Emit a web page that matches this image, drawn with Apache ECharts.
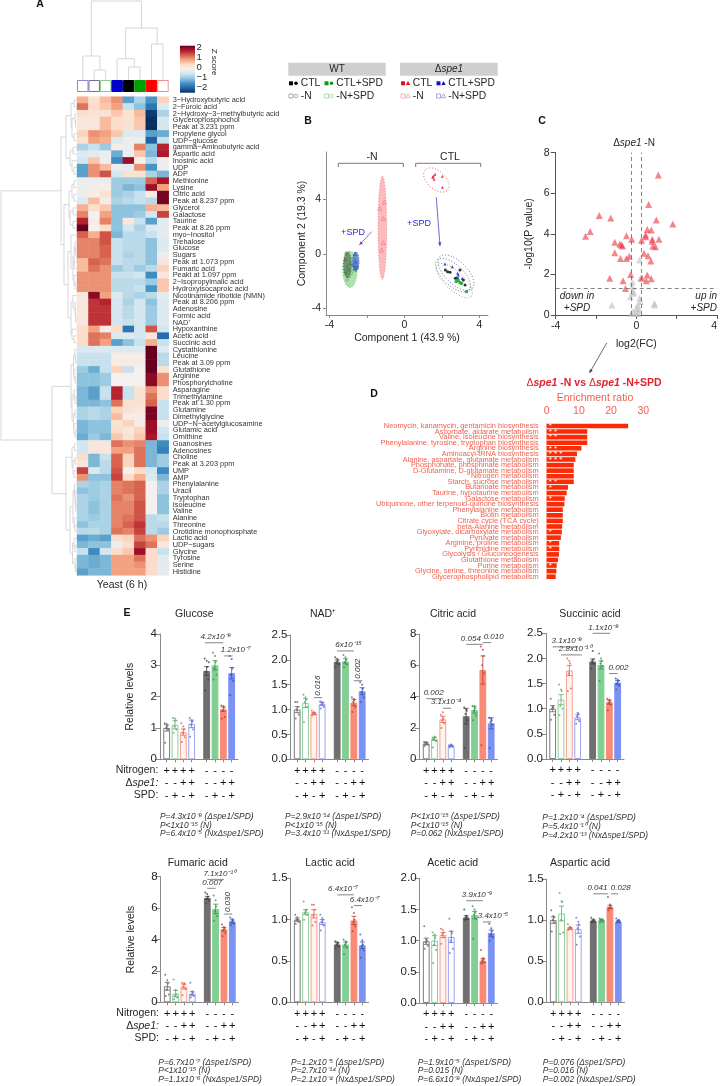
<!DOCTYPE html>
<html><head><meta charset="utf-8">
<style>html,body{margin:0;padding:0;background:#fff}#c{width:720px;height:1086px}</style>
<script src="https://cdn.jsdelivr.net/npm/echarts@6/dist/echarts.min.js"></script>
</head><body><div id="c"></div>
<script>
const FONT='"Liberation Sans",Arial,sans-serif';
/* ---------- Panel A ---------- */
const rowNames=['3−Hydroxybutyric acid','2−Furoic acid','2−Hydroxy−3−methylbutyric acid','Glycerophosphochol','Peak at 3.231 ppm','Propylene glycol','UDP−glucose','gamma−Aminobutyric acid','Aspartic acid','Inosinic acid','UDP','ADP','Methionine','Lysine','Citric acid','Peak at 8.237 ppm','Glycerol','Galactose','Taurine','Peak at 8.26 ppm','myo−Inositol','Trehalose','Glucose','Sugars','Peak at 1.073 ppm','Fumaric acid','Peakt at 1.097 ppm','2−Isopropylmalic acid','Hydroxyisocaproic acid','Nicotinamide ribotide (NMN)','Peak at 8.206 ppm','Adenosine','Formic acid','NAD⁺','Hypoxanthine','Acetic acid','Succinic acid','Cystathionine','Leucine','Peak at 3.09 ppm','Glutathione','Arginine','Phosphorylcholine','Asparagine','Trimethylamine','Peak at 1.30 ppm','Glutamine','Dimethylglycine','UDP−N−acetylglucosamine','Glutamic acid','Ornithine','Guanosines','Adenosines','Choline','Peak at 3.203 ppm','UMP','AMP','Phenylalanine','Uracil','Tryptophan','Isoleucine','Valine','Alanine','Threonine','Orotidine monophosphate','Lactic acid','UDP−sugars','Glycine','Tyrosine','Serine','Histidine'];
const heatRows=[
[.8,.3,.7,1,-1.2,-.7,-1.3,.5],[1.2,.4,.6,.9,-.5,-.9,-1.6,-.3],[.4,.3,.3,.6,.3,.7,-2.1,-.7],[.2,.2,.7,.4,.3,.6,-2.2,-.4],[.2,.2,.7,.4,.3,.6,-2.2,-.4],[.5,1,.9,.6,-.3,-.3,-1.2,-1.1],[.3,.9,.8,-.3,-.1,-.1,-1.8,-.5],[-.7,-.5,-.8,.1,-.1,1.1,-.9,1.7],[-.3,-.2,-.1,-1.1,-.1,.6,-1,1.8],[-.4,.6,-.1,-1.4,1.9,0,-.6,-.1],[-1.2,1,.7,-.1,-.2,1,-1.3,-.1],[-1.2,1,1.4,-.4,.3,.3,-.7,-1],
[-.1,-.1,-.1,-.8,-.8,-.8,1.3,1.8],[-.1,.1,.1,-.8,-1,-.9,1.9,.9],[-.1,.1,.3,-.8,-.7,-.5,.1,2.1],[-.3,.7,.1,-.7,-.6,-.5,-.6,2.1],[.8,.4,.6,-.9,-.9,-.9,.8,.7],[1.1,0,.9,-.9,-.9,-.8,-.4,1.5],[1.7,.1,1.1,-.9,.2,-.5,-1.2,-.2],[2.5,0,.4,-.9,-.4,-.7,-.3,-.2],[1.3,.8,1.4,-1,-.6,-.6,-.5,-.2],[1.1,1.1,1.4,-.5,-.6,-.6,-.9,-.3],[1.1,1.1,1.3,-.5,-.6,-.6,-.9,-.3],[1.1,1.1,1.3,-.5,-.7,-.6,-.9,-.1],[.7,1.3,1.2,-.5,-.6,-.6,-.9,.2],[.7,1.2,1,-.8,-.6,-.8,-.6,.5],[1,1,1,-.5,-.5,-.4,-1.4,.2],[1,1,1,-.6,-.6,-.6,-.8,.6],[1,1,1,-.6,-.6,-.5,-1.3,.6],[.2,2,.9,-.3,-.6,-.7,-.6,-.2],[.2,1.6,1.7,-.4,-.7,-.4,-.9,-.3],[.2,1.6,1.6,-.4,-.6,-.4,-.8,-.3],[.2,1.6,1.6,-.4,-.6,-.4,-.8,-.3],[.2,1.6,1.6,-.4,-.5,-.4,-.8,-.3],[.4,.9,.1,.4,-1.6,-.4,1.4,-.4],[.4,1.2,1.1,-.3,-.3,-.4,.2,-1.7],[.4,1.2,.9,-1.2,-.9,-.5,.8,-.5],
[-.3,-.3,-.3,-.3,-.3,-.3,2.7,-.3],[-.5,-.5,-.5,.1,.1,.1,2.7,-.6],[-.5,-.5,-.5,.1,.1,.1,2.6,-.6],[-.8,-1.1,-.5,.5,-.5,0,2.2,.3],[-.9,-.9,-.8,0,0,0,2,1],[-.9,-.9,-.8,0,0,0,2,1],[-1,-1.2,-.5,1.7,-.5,.3,1,.4],[-1,-1.2,-.5,1.7,-.5,.3,1.2,.4],[-1,-1,-.9,1.2,.3,.3,1.3,-.5],[-.7,-.6,-.7,.5,.3,.2,2.1,-.5],[-.7,-.6,-.7,.7,.1,.1,2.1,-.5],[-1,-.9,-.9,.3,.5,.1,1.9,-.1],[-1,-.9,-.9,.4,.2,.5,1.9,-.4],[-1.1,-.8,-1,.6,.3,.6,1.8,-.5],
[-.4,.2,.2,1.2,1,1.1,-1,-1.4],[-.4,.2,.2,.9,.9,1.2,-1,-1.5],[.4,-1,-.5,1.3,.5,1.2,-1,-.8],[.2,-1,-.6,1.3,.5,1.2,-1,-.8],[1.5,-.3,-.6,1.4,0,.4,-.4,-1.4],[1,-.9,-.9,1.5,.4,.8,-.3,-1],[-.7,-.8,-.7,1.1,1.2,1.3,0,-.7],[-.9,-.8,-.7,1.1,1.2,1.3,0,-.7],[-.7,-.8,-.7,1.2,1,1.3,0,-.9],[-.7,-.9,-.7,1.1,1.1,1.4,0,-.9],[-.7,-.9,-.7,1.1,1.1,1.4,0,-.9],[-.7,-.8,-.7,1.1,1.2,1.4,-.6,-.5],[-.9,-.7,-.7,1.1,1.3,1.6,-.6,-.6],[-.6,-.6,-.7,1.2,1.1,1.5,-.6,-.8],[-1.2,-1.1,-1.2,.4,.5,1.2,1,.5],[-1,-.9,-.9,-.1,.4,1.5,1.2,.2],[-.5,-1.4,-.4,.4,.6,1.9,.4,-.5],[-1,-1.1,-1,.9,.9,1.2,.4,-.2],[-1,-1.1,-1,.9,.9,1,.4,-.2],[-1.2,-1,-1,.9,.9,.9,.4,-.2]];
const colTree=[1,[56,0,[70,1,2]],[28,[58.7,3,[67,4,5]],[44,6,7]]];
const rowTreeA=[66,[71,[74,0,1],[72,[75,2,[75.5,3,4]],[74,5,6]]],[70,[73,7,8],[72,9,[74,10,11]]]];
const rowTreeB=[64,[69,[72,[74,12,13],[74,14,15]],[70,[73,16,17],[73,18,19]]],[68,[71,20,[73,[74,[75,21,[75.5,22,23]],[74,24,25]],[74,26,[75,27,28]]]],[71,[73,29,[75,30,[75.5,31,[75.7,32,33]]]],[72,34,[74,35,36]]]]];
const rowTreeC=[71,[73.5,[75,37,[75.5,38,39]],[74,40,[75,41,42]]],[72,[74,43,[75,44,45]],[73.5,[75,46,47],[74,48,[75,49,50]]]]];
const rowTreeD=[66,[72,[74.5,51,52],[73,[75,53,54],[74,55,56]]],[70,[73,[74.5,57,[75,58,[75.5,59,[75.7,60,61]]]],[74,62,[75,63,64]]],[72.5,[74,65,[75,66,67]],[75,68,[75.5,69,70]]]]];
const rowTree=[1,[61,rowTreeA,rowTreeB],[52,rowTreeC,rowTreeD]];
const annotBorder=['#8f86d6','#6f7396','#8ccb8c','#0000c8','#000000','#00a000','#ff0000','#f09090'];
const annotFill=['#fff','#fff','#fff','#0000c8','#000000','#00a000','#ff0000','#fff'];
const rdbu=['#053061','#2166ac','#4393c3','#92c5de','#d1e5f0','#f4f0ee','#fddbc7','#f4a582','#d6604d','#b2182b','#67001f'];
/* ---------- Panel B ---------- */
const pcaWtCtl=[[2.19,-1.18],[2.31,-1.3],[2.44,-1.35],[2.72,-1.79],[2.97,-1.18],[3.15,-1.91],[3.24,-2.28]];
const pcaWtCtlSpd=[[2.76,-2.03],[2.88,-1.96],[2.97,-2.11],[3.06,-2.16],[3.32,-2.77],[2.84,-1.79]];
const pcaSpeCtl=[[1.55,5.74],[1.51,5.64],[1.58,5.49],[2.03,5.71],[2.03,4.9],[1.64,5.86]];
const pcaSpeCtlSpd=[[2.17,-.74],[2.56,-.93],[2.84,-1.42],[3.09,-1.79],[2.79,-1.72],[2.88,-1.54]];
const pcaSpeN=[[-1.07,3.8],[-1.32,3.36],[-1.12,2.62],[-1.12,.83],[-1.21,.29]];
const pcaWtN=[[-3.11,.05],[-3.15,-.44],[-3.04,-.93],[-2.97,-1.18],[-2.9,-.69],[-3.11,-1.42]];
const pcaWtNSpd=[[-2.81,-1.42],[-2.93,-1.67],[-3.04,-1.91],[-2.72,-1.18],[-2.86,-.32],[-3.16,-1.18]];
const pcaSpeNSpd=[[-2.63,0],[-2.6,-.56],[-2.72,-.81],[-2.51,-.93],[-2.63,-1.05]];
const ellipses=[[-1.17,1.93,.23,0,0,3.8],[-2.9,-1.13,.39,0,0,1.35],[-3.03,-.8,.21,0,0,.97],[-2.59,-.56,.18,0,0,.73],[1.71,5.44,.6,-.74,.32,.5],[2.67,-1.96,.9,-1.16,.33,.5],[2.6,-1.55,.85,-1.1,.38,.55],[2.76,-1.37,.87,-1.16,.4,.6]];
const ellipseFill=['rgba(250,120,125,.5)','rgba(110,200,110,.55)','rgba(70,110,70,.65)','rgba(70,110,200,.75)','rgba(255,255,255,0)','rgba(255,255,255,0)','rgba(255,255,255,0)','rgba(255,255,255,0)'];
const ellipseLine=['#e66','#5b5','#363','#36c','#e22','#3a3','#333','#22c'];
/* ---------- Panel C ---------- */
const volcanoSig=[[1.09,6.9],[.61,5.45],[.99,4.68],[1.81,4.48],[-1.84,4.91],[-1.27,4.78],[-2.29,4.11],[-2.52,3.88],[-.49,3.91],[-.23,3.73],[-1.07,3.58],[-.74,3.45],[-.69,3.4],[-.82,3.5],[-1.07,3.07],[-.79,2.79],[-.49,2.78],[-.35,2.89],[.26,3.69],[.46,3.86],[.54,4.22],[.74,4.19],[.79,3.73],[.79,3.63],[1.12,3.73],[.82,3.4],[.95,3.37],[.38,3.04],[.58,2.92],[.72,2.66],[.46,3.94],[-.28,2],[-1.32,1.81],[-.66,1.69],[-.54,1.31],[.28,1.82],[.54,1.97],[.49,1.69],[.74,1.79]];
const volcanoNs=[[.16,2.71],[.2,1.81],[-.2,1.64],[-.2,1.4],[-.16,1.15],[-.3,.9],[-.13,1.07],[.16,.82],[.2,.66],[.08,.49],[0,.33],[.13,.25],[-.16,.16],[-.03,.08],[-1.22,.49],[.9,.57],[.9,.49],[.08,.08],[-.25,.08]];
/* ---------- Panel D ---------- */
const pathways=['Neomycin, kanamycin, gentamicin biosynthesis','Ascorbate, aldarate metabolism','Valine, isoleucine biosynthesis','Phenylalanine, tyrosine, tryptophan biosynthesis','Arginine biosynthesis','Aminoacyl-tRNA biosynthesis','Alanine, aspartate, glutamate metabolism','Phosphonate, phosphinate metabolism','D-Glutamine, D-glutamate metabolism','Nitrogen metabolism','Starch, sucrose metabolism','Butanoate metabolism','Taurine, hypotaurine metabolism','Galactose metabolism','Ubiquinone, other terpenoid-quinone biosynthesis','Phenylalanine metabolism','Biotin metabolism','Citrate cycle (TCA cycle)','beta-Alanine metabolism','Glyoxylate, dicarboxylate metabolism','Pyruvate metabolism','Arginine, proline metabolism','Pyrimidine metabolism','Glycolysis / Gluconeogenesis','Glutathione metabolism','Purine metabolism','Glycine, serine, threonine metabolism','Glycerophospholipid metabolism'];
const enrichment=[25.3,12.6,12.6,12.6,10.8,9.4,8.9,8.4,8.4,8.4,8.4,6.6,6.2,5.6,5.5,5,5,5,4.8,4.7,4.4,3.9,3.9,3.8,3.5,3.1,3,2.8];
const enrichStars=['*','* *','* *','','* *','* * *','* * *','','','','* *','*','','*','','','','','','*','','*','*','','','*','',''];
/* ---------- Panel E ---------- */
const barPos=[0,1,2,3,4.8,5.8,6.8,7.8];
const signN=['+','+','+','+','-','-','-','-'];
const signS=['-','-','+','+','-','-','+','+'];
const signD=['-','+','-','+','-','+','-','+'];
const barBorder=['#7c7c7c','#8fcf9b','#f3a08e','#9aa4f0','#6f6f6f','#82cf93','#f98a75','#7b92f2'];
const barFill=['#ffffff','#ffffff','#fff4ef','#ffffff','#6f6f6f','#82cf93','#f98a75','#7b92f2'];
const dotColor=['#666','#5aa86c','#e2604a','#6670d0','#444','#3c8f50','#b8412e','#3c50b8'];
const jitter=[-.18,.18,-.08,.08,0,-.24,.24];

const glucoseMean=[1,1.1,.87,1.13,2.82,3,1.6,2.75],glucoseSem=[.1,.13,.1,.12,.14,.15,.07,.18];
const glucoseDots=[[.53,.95,1,1.05,1.13,1.15],[.85,.95,1.05,1.25,1.3,1.32],[.55,.7,.85,.95,1.05,1.15],[.72,.95,1.1,1.2,1.25,1.32],[2.2,2.55,2.8,2.95,3.15,3.22,3.1],[2.55,2.7,2.9,3.1,3.3,3.4],[1.3,1.35,1.55,1.65,1.7,1.72],[2.05,2.5,2.7,2.9,3.2,3.3]];
const glucoseSig=[[4.6,6.8,3.72,'4.2x10⁻⁸',5.9,0],[6.9,7.9,3.3,'1.2x10⁻⁷',8.3,0]];
const glucoseP=['P=4.3x10⁻⁸ (Δspe1/SPD)','P<1x10⁻¹⁵ (N)','P=6.4x10⁻⁵ (NxΔspe1/SPD)'];
const nadMean=[1,1.13,.92,1.11,1.96,1.97,1.14,1.37],nadSem=[.06,.09,.02,.03,.04,.05,.06,.07];
const nadDots=[[.82,.9,1,1.05,1.15,1.15],[.75,1.05,1.15,1.2,1.25,1.3],[.88,.9,.92,.93,.95,.98],[1.02,1.05,1.1,1.13,1.15,1.17],[1.85,1.9,1.95,1.98,2.02,2.05],[1.85,1.9,1.95,2,2.05,2.1],[.95,1.05,1.15,1.2,1.22,1.25],[1.15,1.25,1.35,1.42,1.5,1.55]];
const nadSig=[[4.8,6.8,2.18,'6x10⁻¹⁵',6.16,0],[2,3,1.24,'0.016',2.5,1],[6.8,7.8,1.58,'0.002',7.3,1]];
const nadP=['P=2.9x10⁻¹⁴ (Δspe1/SPD)','P<1x10⁻¹⁵ (N)','P=3.4x10⁻¹¹ (NxΔspe1/SPD)'];
const citricMean=[1,1.3,2.55,.85,2.75,3.15,5.7,2.3],citricSem=[.07,.1,.2,.04,.5,.2,.9,.35];
const citricDots=[[.85,.95,1,1.05,1.1,1.1],[.75,1.15,1.3,1.4,1.45,1.35],[2,2.3,2.5,2.6,3,2.85],[.75,.8,.85,.9,.95,.9],[.7,2.5,2.9,3.1,3.2,3.3],[2.5,2.8,3.1,3.25,3.4,3.4],[.9,5.5,6,6.6,7,7.2],[.7,2.2,2.4,2.5,2.6,2.65]];
const citricSig=[[0,2,3.87,'0.002',.9,0],[2,3,3.26,'3.1x10⁻⁴',2.4,0],[4.8,6.8,7.34,'0.054',5.36,0],[6.8,7.8,7.45,'0.010',8.1,0]];
const citricP=['P<1x10⁻¹⁵ (Δspe1/SPD)','P<1x10⁻¹⁵ (N)','P=0.062 (NxΔspe1/SPD)'];
const succinicMean=[1,1.18,1.76,.83,1.94,1.87,1.13,1.52],succinicSem=[.06,.1,.1,.05,.05,.08,.04,.04];
const succinicDots=[[.78,.88,1,1.02,1.05,1.2],[.87,1,1.05,1.35,1.38,1.48],[1.35,1.4,1.7,1.9,1.95,2],[.7,.75,.85,.9,.92],[1.8,1.9,1.95,1.98,2.15],[1.55,1.85,1.9,1.95,2,2.1],[.97,1.08,1.12,1.15,1.18,1.2],[1.38,1.45,1.5,1.55,1.58,1.6]];
const succinicSig=[[0,3,2.23,'3.1x10⁻⁸',1.7,0],[1,3.5,2.07,'2.8x10⁻¹⁰',2.7,0],[4.8,6.9,2.5,'1.1x10⁻⁸',6.1,0],[6.8,7.8,1.7,'0.002',7.9,0]];
const succinicP=['P=1.2x10⁻⁴ (Δspe1/SPD)','P=5.4x10⁻¹⁰ (N)','P=4.2x10⁻¹³ (NxΔspe1/SPD)'];
const fumaricMean=[1.02,.55,1,.55,6.65,5.95,4.65,5.15],fumaricSem=[.25,.2,.15,.12,.1,.3,.12,.1];
const fumaricDots=[[.4,.5,.8,1.2,1.4,1.75],[.2,.3,.4,.5,.8,1.45],[.45,.85,1,1.2,1.2,1.25],[.3,.4,.5,.6,.7,1.25],[6.3,6.45,6.6,6.7,6.9,7],[5.2,5.5,5.8,6.1,6.5,6.8],[4.2,4.4,4.6,4.7,4.8,4.95],[4.9,5,5.1,5.2,5.3,5.4]];
const fumaricSig=[[4.8,6.8,7.83,'7.1x10⁻¹⁰',6.3,0],[4.8,5.8,7.26,'0.007',5.4,0],[6.8,7.8,5.62,'0.030',7.3,1]];
const fumaricP=['P=6.7x10⁻⁷ (Δspe1/SPD)','P<1x10⁻¹⁵ (N)','P=1.1x10⁻⁶ (NxΔspe1/SPD)'];
const lacticMean=[1,1.09,1.07,.97,.7,.7,.99,.69],lacticSem=[.02,.03,.05,.03,.02,.03,.05,.04];
const lacticDots=[[.95,.97,1,1,1.03,1.06],[1,1.06,1.08,1.12,1.1,1.22],[.93,.97,1.05,1.12,1.18,1.18],[.87,.93,.97,1,1.02,1.06],[.65,.67,.7,.71,.73,.74],[.58,.66,.7,.72,.74,.76],[.86,.92,.97,1,1.08,1.15],[.54,.63,.68,.7,.75,.82]];
const lacticSig=[[4.8,6.8,1.3,'6.4x10⁻⁷',5.5,0],[6.8,7.8,1.17,'6.4x10⁻⁷',8.1,0]];
const lacticP=['P=1.2x10⁻⁵ (Δspe1/SPD)','P=2.7x10⁻¹⁴ (N)','P=2.1x10⁻⁴ (NxΔspe1/SPD)'];
const aceticMean=[.99,1,1.09,1.06,1.37,1.41,.68,1.12],aceticSem=[.05,.08,.04,.09,.03,.06,.03,.05];
const aceticDots=[[.87,.92,.97,1,1.02,1.23],[.64,.85,.93,1.05,1.1,1.13],[.95,1.05,1.1,1.13,1.17,1.19],[.8,.87,1,1.12,1.15,1.35],[1.33,1.35,1.37,1.38,1.4,1.5],[1.03,1.35,1.42,1.45,1.5,1.55],[.63,.65,.68,.7,.72,.85],[1,1.05,1.1,1.15,1.2,1.27]];
const aceticSig=[[4.8,6.8,1.64,'3.9x10⁻⁹',6.1,0],[6.8,7.8,1.3,'3.4x10⁻⁵',8,0]];
const aceticP=['P=1.9x10⁻⁵ (Δspe1/SPD)','P=0.015 (N)','P=6.6x10⁻⁸ (NxΔspe1/SPD)'];
const asparticMean=[1,1.08,.9,.89,.99,1,1.16,.98],asparticSem=[.04,.09,.01,.05,.01,.01,.02,.01];
const asparticDots=[[.86,.97,1,1.03,1.05,1.12],[.83,.85,1,1.22,1.23,1.33],[.88,.89,.9,.91,.92,.95],[.7,.8,.9,.95,.98,1.03],[.97,.98,.99,1,1.01,1.03],[.97,.98,1,1,1.01,1.02],[1.12,1.14,1.15,1.17,1.19,1.28],[.97,.98,.99,1,1,1.02]];
const asparticSig=[[4.8,6.6,1.32,'0.041',5.3,0],[6.9,7.8,1.32,'0.028',8.1,0]];
const asparticP=['P=0.076 (Δspe1/SPD)','P=0.016 (N)','P=0.002 (NxΔspe1/SPD)'];

const barCharts=[
 {t:'Glucose',m:glucoseMean,e:glucoseSem,d:glucoseDots,s:glucoseSig,p:glucoseP,ax:160,top:634,y0:759.3,ymax:4,iv:1,dec:0,tx:194.3,ty:614,px:160,py:816.7,lead:1},
 {t:'NAD⁺',m:nadMean,e:nadSem,d:nadDots,s:nadSig,p:nadP,ax:290.5,top:635,y0:759.3,ymax:2.5,iv:.5,dec:1,tx:323,ty:614,px:285,py:816.7},
 {t:'Citric acid',m:citricMean,e:citricSem,d:citricDots,s:citricSig,p:citricP,ax:419.5,top:634,y0:759.3,ymax:8,iv:2,dec:0,tx:453,ty:614,px:410.7,py:816.7},
 {t:'Succinic acid',m:succinicMean,e:succinicSem,d:succinicDots,s:succinicSig,p:succinicP,ax:546,top:633.3,y0:759,ymax:2.5,iv:.5,dec:1,tx:590,ty:614,px:542.3,py:818},
 {t:'Fumaric acid',m:fumaricMean,e:fumaricSem,d:fumaricDots,s:fumaricSig,p:fumaricP,ax:160.6,top:876.7,y0:1002.3,ymax:8,iv:2,dec:0,tx:197.7,ty:863,px:158.3,py:1062.3,lead:1},
 {t:'Lactic acid',m:lacticMean,e:lacticSem,d:lacticDots,s:lacticSig,p:lacticP,ax:290.6,top:878.3,y0:1002.3,ymax:1.5,iv:.5,dec:1,tx:330,ty:863,px:291,py:1062.3},
 {t:'Acetic acid',m:aceticMean,e:aceticSem,d:aceticDots,s:aceticSig,p:aceticP,ax:419.6,top:878.3,y0:1003,ymax:2,iv:.5,dec:1,tx:452.7,ty:863,px:417.7,py:1062.3},
 {t:'Aspartic acid',m:asparticMean,e:asparticSem,d:asparticDots,s:asparticSig,p:asparticP,ax:546.6,top:879,y0:1002.3,ymax:1.5,iv:.5,dec:1,tx:580,ty:863,px:542.7,py:1062.3}
];

/* ---------- helpers ---------- */
const DARK='#262626';
const grid=[],xAxis=[],yAxis=[],series=[],graphic=[];
function text(x,y,t,o){o=o||{};graphic.push({type:'text',x,y,rotation:o.rot||0,silent:true,z:20,style:{text:t,fontFamily:FONT,fontSize:o.size||10.5,fontWeight:o.weight||'normal',fontStyle:o.style||'normal',fill:o.color||DARK,align:o.align||'center',verticalAlign:'middle',rich:o.rich}});}
function line(x1,y1,x2,y2,c,w){graphic.push({type:'line',silent:true,z:19,shape:{x1,y1,x2,y2},style:{stroke:c,lineWidth:w||1}});}
function arrow(x1,y1,x2,y2,c,s){line(x1,y1,x2,y2,c,.8);const a=Math.atan2(y2-y1,x2-x1),h=s||4;graphic.push({type:'polygon',silent:true,z:19,shape:{points:[[x2,y2],[x2-h*Math.cos(a-.45),y2-h*Math.sin(a-.45)],[x2-h*Math.cos(a+.45),y2-h*Math.sin(a+.45)]]},style:{fill:c}});}
function addGrid(l,t,r,b){grid.push({left:l,top:t,width:r-l,height:b-t,containLabel:false});return grid.length-1;}
function hiddenValue(min,max,inv){return {type:'value',show:false,min,max,inverse:!!inv,splitLine:{show:false}};}
function treeSegs(node,leafH,out){
 if(typeof node==='number')return {pos:node,h:leafH};
 const a=treeSegs(node[1],leafH,out),b=treeSegs(node[2],leafH,out),h=node[0];
 out.push([a.pos,a.h,a.pos,h],[b.pos,b.h,b.pos,h],[a.pos,h,b.pos,h]);
 return {pos:(a.pos+b.pos)/2,h};
}
function segSeries(i,segs,swap){return {type:'custom',coordinateSystem:'cartesian2d',xAxisIndex:i,yAxisIndex:i,silent:true,data:segs,
 renderItem(p,api){const v=k=>api.value(k);const A=swap?api.coord([v(1),v(0)]):api.coord([v(0),v(1)]),B=swap?api.coord([v(3),v(2)]):api.coord([v(2),v(3)]);
 return {type:'line',shape:{x1:A[0],y1:A[1],x2:B[0],y2:B[1]},style:{stroke:'#d6d6d6',lineWidth:1,fill:null}};}};}

/* heatmap */
const HX0=77,HX1=168.7,HY0=96.7,HY1=575.3;
let gi=addGrid(HX0,HY0,HX1,HY1);
xAxis.push({type:'category',show:false,gridIndex:gi,data:[0,1,2,3,4,5,6,7]});
yAxis.push({type:'category',gridIndex:gi,inverse:true,position:'right',data:rowNames,axisLine:{show:false},axisTick:{show:false},axisLabel:{interval:0,fontSize:7.35,fontFamily:FONT,color:'#333',margin:4}});
const heatData=[];heatRows.forEach((r,y)=>r.forEach((v,x)=>heatData.push([x,y,v])));
series.push({type:'heatmap',xAxisIndex:gi,yAxisIndex:gi,data:heatData,progressive:0,silent:true,emphasis:{disabled:true}});
/* column tree */
gi=addGrid(HX0,0,HX1,80);xAxis.push(Object.assign(hiddenValue(-.5,7.5),{gridIndex:gi}));yAxis.push(Object.assign(hiddenValue(0,80,true),{gridIndex:gi}));
let segs=[];treeSegs(colTree,80,segs);series.push(segSeries(gi,segs,false));
/* row tree */
gi=addGrid(0,HY0,77,HY1);xAxis.push(Object.assign(hiddenValue(0,77),{gridIndex:gi}));yAxis.push(Object.assign(hiddenValue(-.5,70.5,true),{gridIndex:gi}));
segs=[];treeSegs(rowTree,76.5,segs);series.push(segSeries(gi,segs,true));
const cw=(HX1-HX0)/8;
annotFill.forEach((c,i)=>graphic.push({type:'rect',silent:true,shape:{x:HX0+i*cw+.5,y:80.5,width:cw-1,height:11},style:{fill:c,stroke:annotBorder[i],lineWidth:1}}));
/* colour key */
graphic.push({type:'rect',silent:true,shape:{x:180,y:45.7,width:15,height:47},style:{fill:new echarts.graphic.LinearGradient(0,0,0,1,rdbu.slice().reverse().map((c,i)=>({offset:i/10,color:c})))}});
[['2',47],['1',57],['0',67],['−1',77],['−2',87]].forEach(a=>text(196.5,a[1],a[0],{size:9.5,align:'left'}));
text(214,62,'Z score',{size:8,rot:-Math.PI/2});
text(122,585,'Yeast (6 h)',{size:10.5});

/* PCA */
const axC='#8a8a8a';
gi=addGrid(326,152,488,315);
xAxis.push({type:'value',gridIndex:gi,min:-4.176,max:4.464,splitLine:{show:false},axisLine:{onZero:false,lineStyle:{color:axC}},axisTick:{customValues:[-4,-2,0,2,4],length:3,lineStyle:{color:axC}},axisLabel:{customValues:[-4,0,4],fontSize:10.5,fontFamily:FONT,color:DARK,margin:5},name:'Component 1 (43.9 %)',nameLocation:'center',nameGap:18,nameTextStyle:{fontSize:10.5,fontFamily:FONT,color:DARK}});
yAxis.push({type:'value',gridIndex:gi,min:-4.485,max:7.5,splitLine:{show:false},axisLine:{onZero:false,lineStyle:{color:axC}},axisTick:{customValues:[-4,0,4],length:3,lineStyle:{color:axC}},axisLabel:{customValues:[-4,0,4],fontSize:10.5,fontFamily:FONT,color:DARK,margin:5},name:'Component 2 (19.3 %)',nameLocation:'center',nameRotate:90,nameGap:17,nameTextStyle:{fontSize:10.5,fontFamily:FONT,color:DARK}});
series.push({type:'custom',coordinateSystem:'cartesian2d',xAxisIndex:gi,yAxisIndex:gi,silent:true,data:ellipses.map(e=>[e[0],e[1]]),
 renderItem(p,api){const e=ellipses[p.dataIndex],pts=[];for(let k=0;k<48;k++){const t=k/48*2*Math.PI;pts.push(api.coord([e[0]+e[2]*Math.cos(t)+e[4]*Math.sin(t),e[1]+e[3]*Math.cos(t)+e[5]*Math.sin(t)]));}
 return {type:'polygon',shape:{points:pts},style:{fill:ellipseFill[p.dataIndex],stroke:ellipseLine[p.dataIndex],lineWidth:.7,lineDash:[1,2]}};}});
[[pcaWtCtl,'circle','#000',3,1],[pcaWtCtlSpd,'rect','#0a9a1a',3,1],[pcaSpeCtl,'triangle','#e01020',3,1],[pcaSpeCtlSpd,'triangle','#1010c8',3,1],[pcaSpeN,'triangle','#e86060',4,0],[pcaWtN,'circle','#3e5c3e',2.5,0],[pcaWtNSpd,'circle','#4a9a4a',2.5,0],[pcaSpeNSpd,'triangle','#2a40b0',3,0]].forEach(g=>{
 series.push({type:'scatter',xAxisIndex:gi,yAxisIndex:gi,data:g[0],symbol:g[1],symbolSize:g[3],silent:true,itemStyle:g[4]?{color:g[2]}:{color:'rgba(255,255,255,0)',borderColor:g[2],borderWidth:.6}});});
text(372,157,'-N',{size:10.5});text(450,157,'CTL',{size:10.5});
[[338.3,403.3],[415.7,480.7]].forEach(b=>{line(b[0],163.3,b[1],163.3,'#777');line(b[0],163.3,b[0],167,'#777');line(b[1],163.3,b[1],167,'#777');});
text(353,233,'+SPD',{size:9,color:'#2a2ad0'});text(419,224,'+SPD',{size:9,color:'#2a2ad0'});
arrow(371.7,231.7,359.3,245,'#7a40c0');arrow(436.3,197.3,440,246,'#5a40c0');

/* volcano */
gi=addGrid(555.7,152.7,717.7,315);
xAxis.push({type:'value',gridIndex:gi,min:-4,max:4,interval:2,splitLine:{show:false},axisLine:{onZero:false,lineStyle:{color:'#555'}},axisTick:{length:4,lineStyle:{color:'#555'}},axisLabel:{fontSize:10.5,fontFamily:FONT,color:DARK,margin:6,showMaxLabel:true,formatter:v=>Math.abs(v)==2?'':String(v),alignMaxLabel:'right'},name:'log2(FC)',nameLocation:'center',nameGap:24,nameTextStyle:{fontSize:10.5,fontFamily:FONT,color:DARK}});
yAxis.push({type:'value',gridIndex:gi,min:0,max:8,interval:2,splitLine:{show:false},axisLine:{onZero:false,lineStyle:{color:'#555'}},axisTick:{length:5,lineStyle:{color:'#555'}},axisLabel:{fontSize:10.5,fontFamily:FONT,color:DARK,margin:6},name:'-log10(P value)',nameLocation:'center',nameRotate:90,nameGap:21,nameTextStyle:{fontSize:10.5,fontFamily:FONT,color:DARK}});
series.push({type:'scatter',xAxisIndex:gi,yAxisIndex:gi,data:volcanoNs,symbol:'triangle',symbolSize:7,silent:true,itemStyle:{color:'rgba(190,190,190,.75)'}});
series.push({type:'scatter',xAxisIndex:gi,yAxisIndex:gi,data:volcanoSig,symbol:'triangle',symbolSize:7,silent:true,itemStyle:{color:'rgba(235,60,75,.78)'},
 markLine:{silent:true,symbol:'none',label:{show:false},animation:false,lineStyle:{color:'#666',type:[4,3],width:.8},data:[{xAxis:-.263},{xAxis:.263},{yAxis:1.3}]}});
text(634,143,'{d|Δ}{i|spe1} {d|-N}',{size:10,rich:{d:{fontSize:10,fontFamily:FONT,fill:DARK},i:{fontSize:10,fontStyle:'italic',fontFamily:FONT,fill:DARK}}});
text(577,296,'down in',{size:10,style:'italic'});text(577,308,'+SPD',{size:10,style:'italic'});
text(717,296,'up in',{size:10,style:'italic',align:'right'});text(717,308,'+SPD',{size:10,style:'italic',align:'right'});
arrow(606.7,343,589.5,373,'#444',4);

/* enrichment */
const REDTXT='#f0604e';
gi=addGrid(546.7,423.2,643.3,579.5);
xAxis.push({type:'value',gridIndex:gi,position:'top',offset:2,min:0,max:30,interval:10,splitLine:{show:false},axisLine:{onZero:false,lineStyle:{color:'#fbccbc',width:2}},axisTick:{length:6,lineStyle:{color:'#fbccbc'}},axisLabel:{fontSize:10.5,fontFamily:FONT,color:REDTXT,margin:5},name:'Enrichment ratio',nameLocation:'center',nameGap:18,nameTextStyle:{fontSize:10.5,fontFamily:FONT,color:REDTXT}});
yAxis.push({type:'category',gridIndex:gi,inverse:true,data:pathways,axisLine:{lineStyle:{color:'#fbccbc'}},axisTick:{length:7,alignWithLabel:true,lineStyle:{color:'#f8a090'}},axisLabel:{interval:0,fontSize:7.4,fontFamily:FONT,color:REDTXT,margin:8}});
series.push({type:'bar',xAxisIndex:gi,yAxisIndex:gi,data:enrichment,barWidth:4.6,silent:true,itemStyle:{color:'#fc2a05'},label:{show:true,position:'insideLeft',distance:2,color:'#fff',fontSize:8,fontFamily:FONT,formatter:p=>enrichStars[p.dataIndex]}});
const redRich={d:{fontSize:10.5,fontFamily:FONT,fill:'#e2202e'},i:{fontSize:10.5,fontWeight:'bold',fontStyle:'italic',fontFamily:FONT,fill:'#e2202e'},b:{fontSize:10.5,fontWeight:'bold',fontFamily:FONT,fill:'#e2202e'}};
text(594,383,'{d|Δ}{i|spe1} {b|-N vs }{d|Δ}{i|spe1} {b|-N+SPD}',{rich:redRich});

/* bar panels */
barCharts.forEach(c=>{
 const g=addGrid(c.ax,c.top,c.ax+78,c.y0),lead=!!c.lead;
 const label=v=>{const i=barPos.indexOf(v);return i<0?'':signN[i]+'\n'+signS[i]+'\n'+signD[i];};
 xAxis.push({type:'value',gridIndex:g,min:-.8,max:8.56,splitLine:{show:false},axisLine:{onZero:false,lineStyle:{color:axC}},axisTick:{customValues:barPos,length:3,lineStyle:{color:axC}},axisLabel:{customValues:barPos,formatter:label,fontSize:11,lineHeight:12.5,fontFamily:FONT,color:'#111',margin:5,hideOverlap:false}});
 yAxis.push({type:'value',gridIndex:g,min:0,max:c.ymax,interval:c.iv,splitLine:{show:false},axisLine:{onZero:false,lineStyle:{color:axC}},axisTick:{length:5,lineStyle:{color:axC}},axisLabel:{fontSize:11.5,fontFamily:FONT,color:DARK,margin:3,formatter:v=>v.toFixed(c.dec)},name:lead?'Relative levels':'',nameLocation:'center',nameRotate:90,nameGap:24,nameTextStyle:{fontSize:10.5,fontFamily:FONT,color:DARK}});
 series.push({type:'bar',xAxisIndex:g,yAxisIndex:g,barWidth:6.8,silent:true,data:c.m.map((v,i)=>({value:[barPos[i],v],itemStyle:{color:barFill[i],borderColor:barBorder[i],borderWidth:1}}))});
 series.push({type:'custom',coordinateSystem:'cartesian2d',xAxisIndex:g,yAxisIndex:g,silent:true,z:3,data:c.m.map((v,i)=>[barPos[i],v,c.e[i]]),
  renderItem(p,api){const x=api.value(0),m=api.value(1),e=api.value(2),a=api.coord([x,m-e]),b=api.coord([x,m+e]),k=dotColor[p.dataIndex],st={stroke:k,lineWidth:.8};
   return {type:'group',children:[{type:'line',shape:{x1:a[0],y1:a[1],x2:b[0],y2:b[1]},style:st},{type:'line',shape:{x1:a[0]-2.5,y1:a[1],x2:a[0]+2.5,y2:a[1]},style:st},{type:'line',shape:{x1:b[0]-2.5,y1:b[1],x2:b[0]+2.5,y2:b[1]},style:st}]};}});
 const pts=[];c.d.forEach((arr,i)=>arr.forEach((v,k)=>pts.push({value:[barPos[i]+jitter[k%jitter.length],v],itemStyle:{color:dotColor[i]}})));
 series.push({type:'scatter',xAxisIndex:g,yAxisIndex:g,symbolSize:2,silent:true,z:4,data:pts});
 series.push({type:'custom',coordinateSystem:'cartesian2d',xAxisIndex:g,yAxisIndex:g,silent:true,z:5,clip:false,data:c.s.map(s=>[s[0],s[2]]),
  renderItem(p,api){const s=c.s[p.dataIndex],a=api.coord([s[0],s[2]]),b=api.coord([s[1],s[2]]),t=api.coord([s[4],s[2]]);
   const st={text:s[3],fontSize:8,fontStyle:'italic',fontFamily:FONT,fill:'#333',verticalAlign:s[5]?'middle':'bottom',align:s[5]?'left':'center'};
   return {type:'group',children:[{type:'line',shape:{x1:a[0],y1:a[1],x2:b[0],y2:b[1]},style:{stroke:'#666',lineWidth:.8}},{type:'text',x:t[0],y:t[1]-2,rotation:s[5]?Math.PI/2:0,style:st}]};}});
 text(c.tx,c.ty,c.t,{size:10.5});
 c.p.forEach((l,i)=>text(c.px,c.py+i*8.7,l,{size:8.4,style:'italic',align:'left',color:'#333'}));
 if(lead){const rx=c.ax-1.7,ry=c.y0+11;
  text(rx,ry,'Nitrogen:',{size:10.5,align:'right'});
  text(rx,ry+12.4,'{d|Δ}{i|spe1:}',{align:'right',rich:{d:{fontSize:10.5,fontFamily:FONT,fill:DARK},i:{fontSize:10.5,fontStyle:'italic',fontFamily:FONT,fill:DARK}}});
  text(rx,ry+24.6,'SPD:',{size:10.5,align:'right'});}
});

/* legend block */
const GREY='#cfcfcf';
[[288.3,385.7,337,'WT'],[400,497.7,449,'{d|Δ}{i|spe1}']].forEach((b,i)=>{
 graphic.push({type:'rect',silent:true,shape:{x:b[0],y:62.7,width:b[1]-b[0],height:13},style:{fill:GREY}});
 text(b[2],69.5,b[3],{size:10,rich:{d:{fontSize:10,fontFamily:FONT,fill:DARK},i:{fontSize:10,fontStyle:'italic',fontFamily:FONT,fill:DARK}}});});
const legendItems=[[291,83.3,'CTL','#000',1,'c'],[326.5,83.3,'CTL+SPD','#0a9a1a',1,'c'],[291,96,'-N','#888',0,'c'],[326.5,96,'-N+SPD','#8ccb8c',0,'c'],[403,83.3,'CTL','#e01020',1,'t'],[438.5,83.3,'CTL+SPD','#1010c8',1,'t'],[403,96,'-N','#f09a9a',0,'t'],[438.5,96,'-N+SPD','#8f86d6',0,'t']];
legendItems.forEach(l=>{const st=l[4]?{fill:l[3]}:{fill:'#fff',stroke:l[3],lineWidth:.7};
 graphic.push({type:'rect',silent:true,shape:{x:l[0]-2,y:l[1]-2,width:4,height:4},style:st});
 if(l[5]==='c')graphic.push({type:'circle',silent:true,shape:{cx:l[0]+5,cy:l[1],r:1.8},style:st});
 else graphic.push({type:'polygon',silent:true,shape:{points:[[l[0]+5,l[1]-2.2],[l[0]+7.2,l[1]+1.8],[l[0]+2.8,l[1]+1.8]]},style:st});
 text(l[0]+9.7,l[1],l[2],{size:10.3,align:'left'});});

/* panel letters */
[['A',40,4],['B',308,121],['C',542,121],['D',374,394],['E',127,613]].forEach(a=>text(a[1],a[2],a[0],{size:10.5,weight:'bold',color:'#111'}));

const chart=echarts.init(document.getElementById('c'),null,{renderer:'canvas'});
chart.setOption({animation:false,backgroundColor:'#fff',textStyle:{fontFamily:FONT},grid,xAxis,yAxis,series,graphic:{elements:graphic},
 visualMap:{type:'continuous',seriesIndex:0,min:-2.2,max:2.2,show:false,inRange:{color:rdbu}}});
</script></body></html>
